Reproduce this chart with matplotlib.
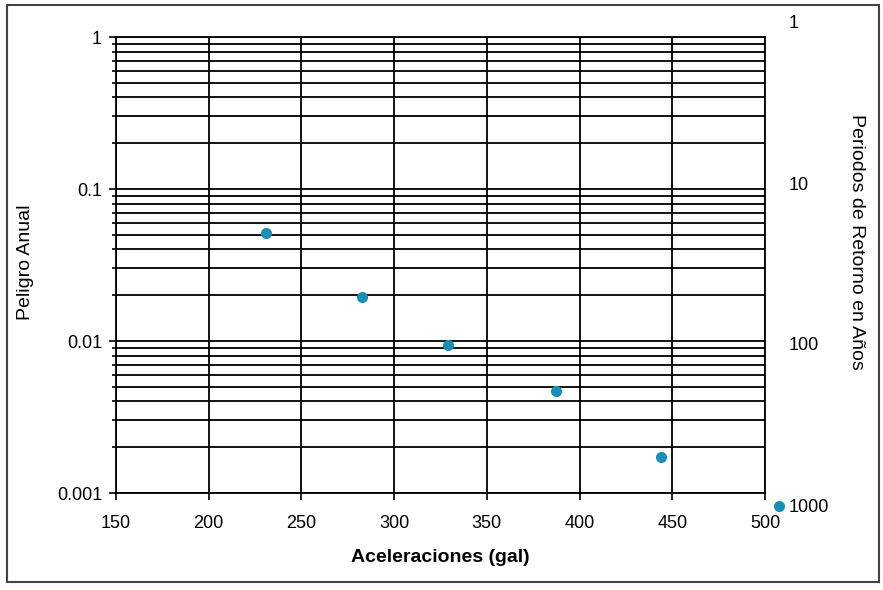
import matplotlib
matplotlib.use("Agg")
import matplotlib.pyplot as plt
from matplotlib.ticker import LogLocator, NullFormatter, FixedLocator, FixedFormatter
from matplotlib.patches import Rectangle

plt.rcParams['font.family'] = ['Liberation Sans', 'DejaVu Sans']

# Seismic hazard curve data
aceleraciones = [230.9, 282.7, 329.0, 387.3, 443.9, 507.6]
peligro_anual = [0.051, 0.0195, 0.0094, 0.0047, 0.00173, 0.00082]

x_ticks = [150, 200, 250, 300, 350, 400, 450, 500]
y_ticks = [0.001, 0.01, 0.1, 1]
y_tick_labels = ['0.001', '0.01', '0.1', '1']
periodos = [1, 10, 100, 1000]
periodo_labels = ['1', '10', '100', '1000']

W, H = 883, 590
fig = plt.figure(figsize=(W / 100, H / 100), dpi=100)

# outer frame
fig.patches.append(Rectangle((7 / W, 1 - 582 / H), 872 / W, 577 / H,
                             transform=fig.transFigure, fill=False,
                             edgecolor='#444444', linewidth=1.5))

ax = fig.add_axes([116 / W, 1 - 493 / H, 649 / W, 456 / H])
ax.set_yscale('log')
ax.set_xlim(150, 500)
ax.set_ylim(0.001, 1)

ax.xaxis.set_major_locator(FixedLocator(x_ticks))
ax.yaxis.set_major_locator(FixedLocator(y_ticks))
ax.yaxis.set_major_formatter(FixedFormatter(y_tick_labels))
ax.yaxis.set_minor_locator(LogLocator(base=10, subs=range(2, 10)))
ax.yaxis.set_minor_formatter(NullFormatter())

ax.grid(True, which='major', axis='both', color='black', linewidth=1.3)
ax.grid(True, which='minor', axis='y', color='black', linewidth=1.3)
ax.set_axisbelow(True)

for s in ax.spines.values():
    s.set_linewidth(1.3)
    s.set_color('black')

ax.tick_params(axis='both', which='major', direction='out', length=5, width=1.2,
               labelsize=13, colors='black')
ax.tick_params(axis='y', which='minor', direction='out', length=3, width=1.2)
ax.tick_params(axis='x', pad=11)
ax.tick_params(axis='y', pad=5)

ax.plot(aceleraciones, peligro_anual, linestyle='none', marker='o',
        markersize=7, color='#1b8fb3', clip_on=False, zorder=5)

ax.set_xlabel('Aceleraciones (gal)', fontsize=14, fontweight='bold', labelpad=12)
fig.text(25 / W, 1 - 262 / H, 'Peligro Anual', rotation=90, fontsize=14,
         ha='center', va='center')

# return-period scale on the right
ax2 = fig.add_axes([116 / W, 1 - 505 / H, 649 / W, 483 / H])
ax2.patch.set_alpha(0)
for s in ax2.spines.values():
    s.set_visible(False)
ax2.set_yscale('log')
ax2.set_ylim(1000, 1)
ax2.set_xticks([])
ax2.yaxis.tick_right()
ax2.yaxis.set_major_locator(FixedLocator(periodos))
ax2.yaxis.set_major_formatter(FixedFormatter(periodo_labels))
ax2.yaxis.set_minor_locator(FixedLocator([]))
ax2.tick_params(axis='y', length=0, pad=17, labelsize=13)
for lbl in ax2.get_yticklabels():
    lbl.set_ha('left')

fig.text(857 / W, 1 - 242 / H, 'Periodos de Retorno en Años', rotation=-90,
         fontsize=14, ha='center', va='center')

fig.savefig('out.png', dpi=100)
